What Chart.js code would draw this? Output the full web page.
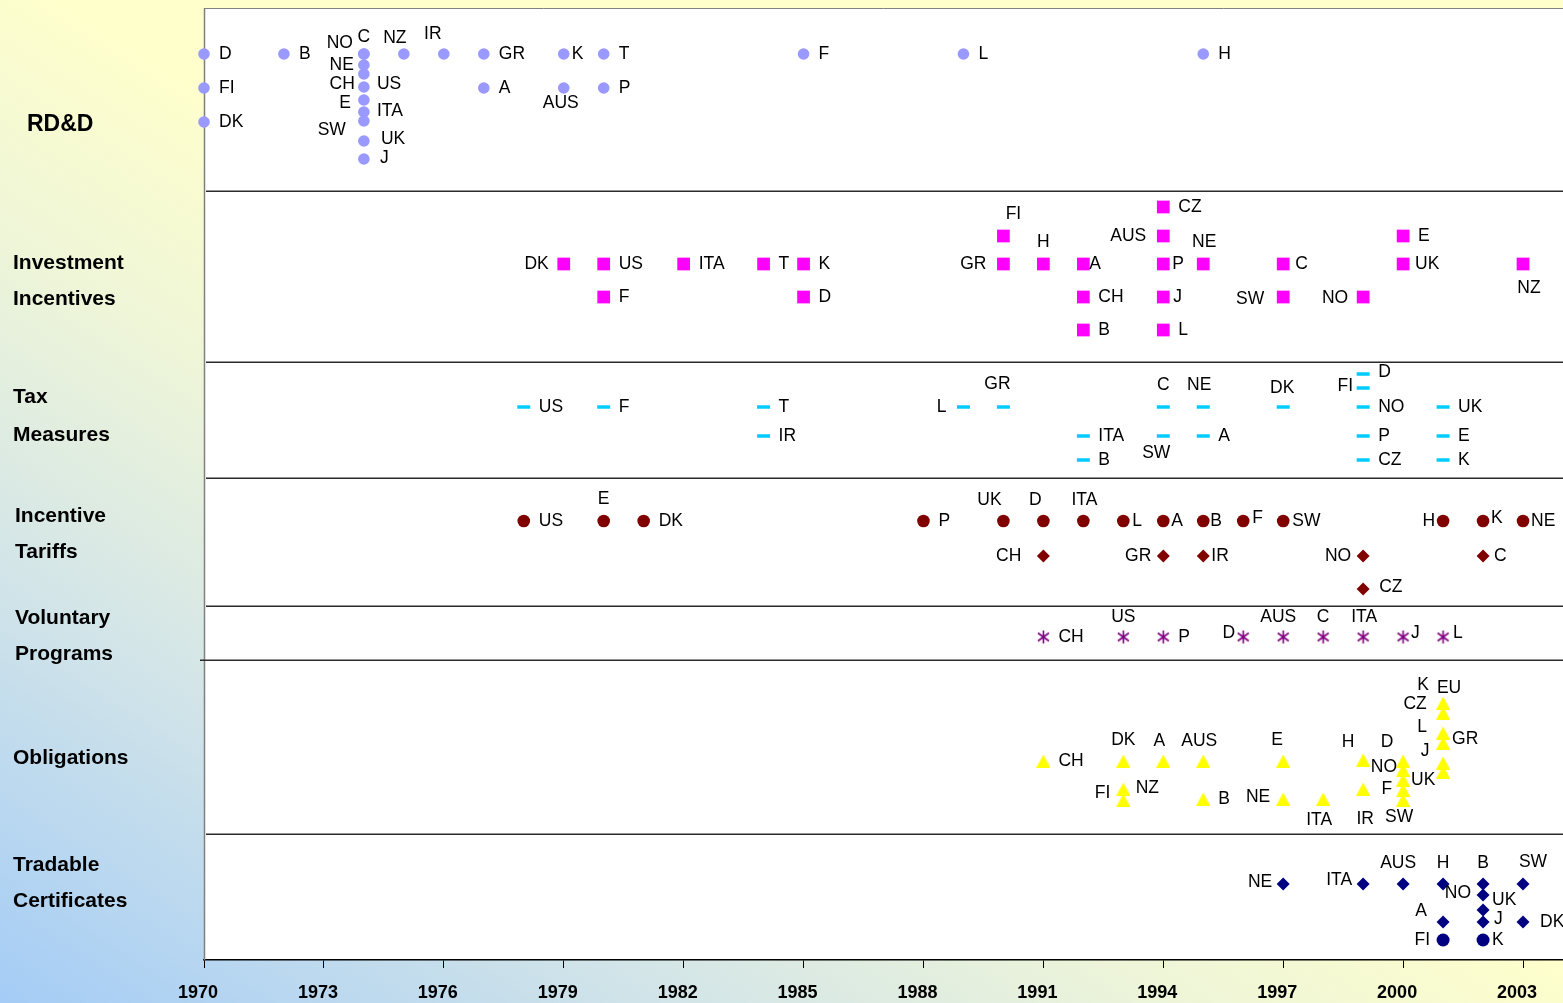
<!DOCTYPE html>
<html><head><meta charset="utf-8">
<script src="https://cdn.jsdelivr.net/npm/chart.js@4"></script>
<style>
html,body{margin:0;padding:0;width:1563px;height:1003px;overflow:hidden;}
body{background:linear-gradient(to top right,#a4ccf6 0%,#d3e5e8 22%,#eef5d8 38%,#ffffcc 52%,#ffffcc 100%);}
#wrap{position:relative;width:1563px;height:1003px;}
</style></head>
<body><div id="wrap"><canvas id="c"></canvas></div>
<script>
// ---------- DATA ----------
const tickYears = [1970,1973,1976,1979,1982,1985,1988,1991,1994,1997,2000,2003];
const categoryNames = [['RD&D'],['Investment','Incentives'],['Tax','Measures'],['Incentive','Tariffs'],['Voluntary','Programs'],['Obligations'],['Tradable','Certificates']];
const dividerLevels = [769,598,482,354,300,126];

const rddNames  = ['D','FI','DK','B','NO','C','NE','CH','US','E','ITA','SW','UK','J','NZ','IR','GR','A','K','AUS','T','P','F','L','H'];
const rddYears  = [1970,1970,1970,1972,1974,1974,1974,1974,1974,1974,1974,1974,1974,1974,1975,1976,1977,1977,1979,1979,1980,1980,1985,1989,1995];
const rddLevels = [906,872,838,906,906,906,895,886,873,860,848,839,819,801,906,906,906,872,906,872,906,872,906,906,906];

const invNames  = ['DK','US','F','ITA','T','K','D','FI','GR','H','A','CH','B','CZ','AUS','P','J','L','NE','C','SW','NO','E','UK','NZ'];
const invYears  = [1979,1980,1980,1982,1984,1985,1985,1990,1990,1991,1992,1992,1992,1994,1994,1994,1994,1994,1995,1997,1997,1999,2000,2000,2003];
const invLevels = [696,696,663,696,696,696,663,724,696,696,696,663,630,753,724,696,663,630,696,696,663,663,724,696,696];

const taxNames  = ['US','F','T','IR','L','GR','ITA','B','C','SW','NE','A','DK','D','FI','NO','P','CZ','UK','E','K'];
const taxYears  = [1978,1980,1984,1984,1989,1990,1992,1992,1994,1994,1995,1995,1997,1999,1999,1999,1999,1999,2001,2001,2001];
const taxLevels = [553,553,553,524,553,553,524,500,553,524,553,524,553,586,572,553,524,500,553,524,500];

const fitNames  = ['US','E','DK','P','UK','D','ITA','L','A','B','F','SW','H','K','NE'];
const fitYears  = [1978,1980,1981,1988,1990,1991,1992,1993,1994,1995,1996,1997,2001,2002,2003];
const fitLevels = [439,439,439,439,439,439,439,439,439,439,439,439,439,439,439];

const fit2Names  = ['CH','GR','IR','NO','C','CZ'];
const fit2Years  = [1991,1994,1995,1999,2002,1999];
const fit2Levels = [404,404,404,404,404,371];

const volNames  = ['CH','US','P','D','AUS','C','ITA','J','L'];
const volYears  = [1991,1993,1994,1996,1997,1998,1999,2000,2001];
const volLevels = [323,323,323,323,323,323,323,323,323];

const oblNames  = ['CH','DK','FI','NZ','A','AUS','B','E','NE','ITA','H','IR','D','NO','UK','F','SW','EU','CZ','L','GR','J','K'];
const oblYears  = [1991,1993,1993,1993,1994,1995,1995,1997,1997,1998,1999,1999,2000,2000,2000,2000,2000,2001,2001,2001,2001,2001,2001];
const oblLevels = [199,199,171,160,199,199,161,199,161,161,200,171,199,190,180,170,160,257,247,227,217,197,188];

const trdNames  = ['NE','ITA','AUS','H','A','B','NO','UK','J','SW','DK'];
const trdYears  = [1997,1999,2000,2001,2001,2002,2002,2002,2002,2003,2003];
const trdLevels = [76,76,76,76,38,76,65,50,38,76,38];

const trd2Names  = ['FI','K'];
const trd2Years  = [2001,2002];
const trd2Levels = [20,20];

// ---------- LABEL PLACEMENT (layout only) ----------
const POS = {r:[15,0,'left'], rc:[8,0,'left'], l:[-15,0,'right'], t:[0,-22,'center'], b:[0,21,'center']};
const rddLabelAt = ['r','r','r','r',[-11,-11,'right'],[0,-17,'center'],[-10,0,'right'],[-9,10,'right'],[13,-3,'left'],[-13,3,'right'],[13,-1,'left'],[-18,9,'right'],[17,-2,'left'],[16,-1,'left'],[-9,-16,'center'],[-11,-20,'center'],'r','r','rc',[-3,15,'center'],'r','r','r','r','r'];
const invLabelAt = ['l','r','r','r','r','r','r',[10,-22,'center'],[-17,0,'right'],'t',[6,0,'left'],'r','r','r',[-17,0,'right'],[9,0,'left'],[10,0,'left'],'r',[1,-22,'center'],[12,0,'left'],[-19,2,'right'],[-15,1,'right'],'r',[12,0,'left'],[6,24,'center']];
const taxLabelAt = ['r','r','r','r',[-17,0,'right'],[-6,-23,'center'],'r','r',[0,-22,'center'],[-7,17,'center'],[-4,-22,'center'],'r',[-1,-19,'center'],[15,-2,'left'],[-10,-2,'right'],'r','r','r','r','r','r'];
const fitLabelAt = ['r','t','r','r',[-14,-21,'center'],[-8,-21,'center'],[1,-21,'center'],[9,0,'left'],[8,0,'left'],[7,0,'left'],[9,-3,'left'],[9,0,'left'],[-8,0,'right'],[8,-3,'left'],[8,0,'left']];
const fit2LabelAt = [[-22,0,'right'],[-12,0,'right'],[8,0,'left'],[-12,0,'right'],[11,0,'left'],[16,-2,'left']];
const volLabelAt = ['r',[0,-20,'center'],'r',[-8,-4,'right'],[-5,-20,'center'],[0,-20,'center'],[1,-20,'center'],[8,-4,'left'],[10,-4,'left']];
const oblLabelAt = ['r',[0,-21,'center'],[-13,4,'right'],[24,-12,'center'],[-4,-20,'center'],[-4,-20,'center'],'r',[-6,-21,'center'],[-13,-2,'right'],[-4,21,'center'],[-15,-18,'center'],[2,30,'center'],[-16,-19,'center'],[-6,-3,'right'],[8,0,'left'],[-11,-1,'right'],[-4,17,'center'],[6,-15,'center'],[-28,-9,'center'],[-21,-6,'center'],[9,-4,'left'],[-18,-12,'center'],[-20,-87,'center']];
const trdLabelAt = [[-11,-2,'right'],[-11,-4,'right'],[-5,-21,'center'],[0,-21,'center'],[-22,-11,'center'],[0,-21,'center'],[-12,-2,'right'],[9,-10,'left'],[11,-3,'left'],[10,-22,'center'],[17,0,'left']];
const trd2LabelAt = [[-13,0,'right'],[9,0,'left']];

// ---------- custom marker images ----------
function asterisk(color){
  const c=document.createElement('canvas'); c.width=15; c.height=15;
  const g=c.getContext('2d'); g.strokeStyle=color; g.lineWidth=1.6; g.beginPath();
  g.moveTo(7.5,1); g.lineTo(7.5,14);
  g.moveTo(2,3.5); g.lineTo(13,11.5);
  g.moveTo(2,11.5); g.lineTo(13,3.5);
  g.stroke(); return c;
}
function triangle(color){
  const c=document.createElement('canvas'); c.width=14; c.height=13;
  const g=c.getContext('2d'); g.fillStyle=color; g.beginPath();
  g.moveTo(7,0); g.lineTo(14,13); g.lineTo(0,13); g.closePath(); g.fill(); return c;
}

function pts(years,levels){ return years.map((x,i)=>({x:x,y:levels[i]})); }
function ds(years,levels,names,labelAt,style){
  return Object.assign({data:pts(years,levels), names:names, labelAt:labelAt, showLine:false, clip:false, pointBorderWidth:0, pointHoverRadius:0}, style);
}

const datasets = [
  ds(rddYears,rddLevels,rddNames,rddLabelAt,{pointStyle:'circle',pointRadius:5.8,pointBackgroundColor:'#9999FF',pointBorderColor:'#9999FF'}),
  ds(invYears,invLevels,invNames,invLabelAt,{pointStyle:'rect',pointRadius:9,pointBackgroundColor:'#FF00FF',pointBorderColor:'#FF00FF'}),
  ds(taxYears,taxLevels,taxNames,taxLabelAt,{pointStyle:'line',pointRadius:6.5,pointBorderWidth:3.5,pointBackgroundColor:'#00CCFF',pointBorderColor:'#00CCFF'}),
  ds(fitYears,fitLevels,fitNames,fitLabelAt,{pointStyle:'circle',pointRadius:6.3,pointBackgroundColor:'#800000',pointBorderColor:'#800000'}),
  ds(fit2Years,fit2Levels,fit2Names,fit2LabelAt,{pointStyle:'rectRot',pointRadius:6.5,pointBackgroundColor:'#800000',pointBorderColor:'#800000'}),
  ds(volYears,volLevels,volNames,volLabelAt,{pointStyle:asterisk('#800080'),pointRadius:7}),
  ds(oblYears,oblLevels,oblNames,oblLabelAt,{pointStyle:triangle('#FFFF00'),pointRadius:7}),
  ds(trdYears,trdLevels,trdNames,trdLabelAt,{pointStyle:'rectRot',pointRadius:6.5,pointBackgroundColor:'#000080',pointBorderColor:'#000080'}),
  ds(trd2Years,trd2Levels,trd2Names,trd2LabelAt,{pointStyle:'circle',pointRadius:6.5,pointBackgroundColor:'#000080',pointBorderColor:'#000080'})
];

const LABEL_FONT = '17.5px "Liberation Sans", Arial, sans-serif';
// category label layout: [x, first line center y, line gap, font size]
const catLayout = [[27,125,0,23],[13,263,36,21],[13,397,38,21],[15,516,36,21],[15,618,36,21],[13,758,0,21],[13,865,36,21]];

const PLOT = {left:204, top:8, right:1563, bottom:960};

const decor = {
  id:'decor',
  afterLayout(chart){
    // pin plot area to the reference frame
    const a = chart.chartArea;
    a.left = PLOT.left; a.top = PLOT.top; a.right = PLOT.right; a.bottom = PLOT.bottom;
    a.width = a.right - a.left; a.height = a.bottom - a.top;
    const {x, y} = chart.scales;
    x.left = a.left; x.right = a.right; x.width = a.width; x.top = a.bottom; x.bottom = chart.height; x.height = x.bottom - x.top;
    y.top = a.top; y.bottom = a.bottom; y.height = a.height; y.left = a.left; y.right = a.left; y.width = 0;
    x.configure(); y.configure();
  },
  beforeDraw(chart){
    const {ctx, chartArea:a} = chart;
    ctx.save(); ctx.fillStyle='#FFFFFF'; ctx.fillRect(a.left,a.top,a.right-a.left,a.bottom-a.top);
    ctx.strokeStyle='#808080'; ctx.lineWidth=1; ctx.beginPath(); ctx.moveTo(a.left,a.top+0.5); ctx.lineTo(a.right,a.top+0.5); ctx.stroke();
    ctx.restore();
  },
  beforeDatasetsDraw(chart){
    const {ctx, chartArea:a, scales:{y}} = chart;
    ctx.save();
    ctx.strokeStyle='#808080'; ctx.lineWidth=1.5; ctx.beginPath(); ctx.moveTo(a.left+0.5,a.top); ctx.lineTo(a.left+0.5,a.bottom); ctx.stroke();
    ctx.strokeStyle='#2a2a2a'; ctx.lineWidth=1.5;
    dividerLevels.forEach((v,i)=>{
      const py=Math.round(y.getPixelForValue(v))+0.25;
      ctx.beginPath(); ctx.moveTo(i===4 ? a.left-4 : a.left+2, py); ctx.lineTo(a.right, py); ctx.stroke();
    });
    ctx.restore();
  },
  afterDatasetsDraw(chart){
    const ctx = chart.ctx;
    ctx.save(); ctx.font=LABEL_FONT; ctx.fillStyle='#000'; ctx.textBaseline='middle';
    chart.data.datasets.forEach((d,di)=>{
      const meta = chart.getDatasetMeta(di);
      meta.data.forEach((el,i)=>{
        let p = d.labelAt[i]; if (typeof p==='string') p = POS[p];
        ctx.textAlign = p[2];
        ctx.fillText(d.names[i], el.x+p[0], el.y+p[1]);
      });
    });
    ctx.restore();
  },
  afterDraw(chart){
    const ctx = chart.ctx;
    ctx.save(); ctx.fillStyle='#000'; ctx.textBaseline='middle'; ctx.textAlign='left';
    categoryNames.forEach((lines,i)=>{
      const [x,y0,gap,sz] = catLayout[i];
      ctx.font = 'bold '+sz+'px "Liberation Sans", Arial, sans-serif';
      lines.forEach((t,j)=>ctx.fillText(t, x, y0+j*gap));
    });
    ctx.restore();
  }
};

new Chart(document.getElementById('c'), {
  type:'scatter',
  data:{datasets:datasets},
  options:{
    responsive:true, maintainAspectRatio:false, devicePixelRatio:1, animation:false,
    layout:{padding:{left:204, top:8, right:0, bottom:0}},
    plugins:{legend:{display:false}, tooltip:{enabled:false}},
    events:[],
    scales:{
      x:{type:'linear', min:1970, max:2004, position:'bottom',
        afterBuildTicks:s=>{ s.ticks = tickYears.map(v=>({value:v})); },
        afterFit:s=>{ s.height = 43; },
        grid:{drawOnChartArea:false, drawTicks:true, tickLength:8, color:'#000', lineWidth:1},
        border:{display:true, color:'#000', width:1.5},
        ticks:{callback:v=>String(v), font:{family:'"Liberation Sans", Arial, sans-serif', size:18, weight:'bold'}, color:'#000', padding:14, labelOffset:-6, maxRotation:0, autoSkip:false}
      },
      y:{type:'linear', min:0, max:952, display:false}
    }
  },
  plugins:[decor]
});
</script>
</body></html>
